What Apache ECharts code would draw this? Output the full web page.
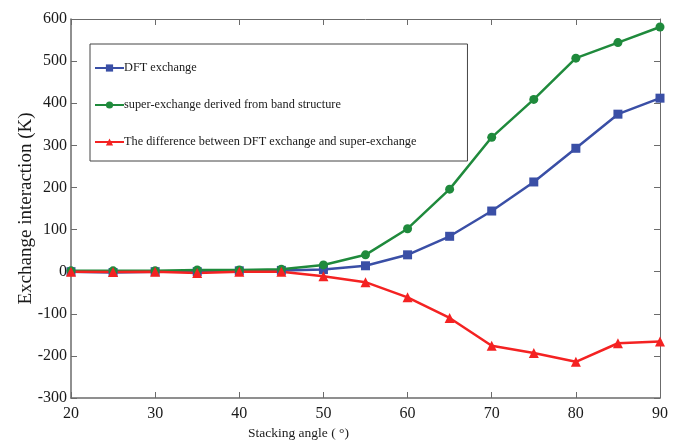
<!DOCTYPE html>
<html>
<head>
<meta charset="utf-8">
<script src="https://cdn.jsdelivr.net/npm/echarts@6/dist/echarts.min.js"></script>
<style>
  html, body { margin: 0; padding: 0; background: #fff; }
  #chart { width: 680px; height: 442px; }
</style>
</head>
<body>
<div id="chart"></div>
<script>
// stacking angles (deg)
let angles = [20, 25, 30, 35, 40, 45, 50, 55, 60, 65, 70, 75, 80, 85, 90];
let dftExchange = [0, -2, 0, 0, 2, 3, 5, 14, 40, 84, 144, 213, 293, 374, 412];
let superExchange = [2, 2, 2, 4, 4, 6, 16, 40, 102, 196, 319, 409, 507, 544, 581];
let difference = [0, -1, 0, -3, 0, 0, -11, -25, -61, -110, -176, -193, -214, -170, -166];
let seriesNames = [
  'DFT exchange',
  'super-exchange derived from band structure',
  'The difference between DFT exchange and super-exchange'
];

let font = 'Liberation Serif';
let frame = '#6b6b6b';

let pairs = function (ys) {
  let res = [];
  for (let i = 0; i < angles.length; i++) {
    res.push([angles[i], ys[i]]);
  }
  return res;
};

let mkSeries = function (name, ys, color, symbol, size) {
  return {
    name: name,
    type: 'line',
    xAxisIndex: 0,
    yAxisIndex: 0,
    data: pairs(ys),
    symbol: symbol,
    symbolSize: size,
    showAllSymbol: true,
    lineStyle: { color: color, width: 2.5 },
    itemStyle: { color: color },
    emphasis: { disabled: true },
    z: 3
  };
};

let chart = echarts.init(document.getElementById('chart'));
chart.setOption({
  backgroundColor: '#fff',
  animation: false,
  grid: { left: 71, right: 20, top: 19, bottom: 44, containLabel: false, outerBoundsMode: 'none' },
  legend: {
    orient: 'vertical',
    left: 90,
    top: 44,
    padding: [17, 51, 12, 4],
    itemGap: 23,
    itemWidth: 29,
    itemHeight: 9,
    borderColor: '#444',
    borderWidth: 1,
    textStyle: { fontFamily: font, fontSize: 12.3, lineHeight: 14, color: '#1a1a1a', padding: [0, 0, 0, -5] },
    data: seriesNames
  },
  xAxis: [
    {
      type: 'value', min: 20, max: 90, interval: 10,
      name: 'Stacking angle ( °)',
      nameLocation: 'middle', nameGap: 28,
      nameTextStyle: { fontFamily: font, fontSize: 13.5, color: '#1a1a1a', padding: [0, 134, 0, 0] },
      axisLine: { show: true, onZero: false, lineStyle: { color: frame, width: 1.5 } },
      axisTick: { inside: true, length: 6, lineStyle: { color: frame } },
      axisLabel: { fontFamily: font, fontSize: 16, color: '#1a1a1a', margin: 8 },
      splitLine: { show: false }
    },
    {
      type: 'value', min: 20, max: 90, interval: 10, position: 'top',
      axisLine: { show: true, onZero: false, lineStyle: { color: frame, width: 1 } },
      axisTick: { inside: true, length: 6, lineStyle: { color: frame } },
      axisLabel: { show: false },
      splitLine: { show: false }
    }
  ],
  yAxis: [
    {
      type: 'value', min: -300, max: 600, interval: 100,
      name: 'Exchange interaction (K)',
      nameLocation: 'middle', nameGap: 35, nameRotate: 90,
      nameMoveOverlap: false,
      nameTextStyle: { fontFamily: font, fontSize: 19, color: '#1a1a1a' },
      axisLine: { show: true, onZero: false, lineStyle: { color: frame, width: 1.5 } },
      axisTick: { inside: true, length: 6, lineStyle: { color: frame } },
      axisLabel: { fontFamily: font, fontSize: 16, color: '#1a1a1a', margin: 4 },
      splitLine: { show: false }
    },
    {
      type: 'value', min: -300, max: 600, interval: 100, position: 'right',
      axisLine: { show: true, onZero: false, lineStyle: { color: frame, width: 1 } },
      axisTick: { inside: true, length: 6, lineStyle: { color: frame } },
      axisLabel: { show: false },
      splitLine: { show: false }
    }
  ],
  series: [
    mkSeries(seriesNames[0], dftExchange, '#3a4fa6', 'rect', 9),
    mkSeries(seriesNames[1], superExchange, '#1f8a3c', 'circle', 9),
    mkSeries(seriesNames[2], difference, '#f42222', 'triangle', 10)
  ]
});
</script>
</body>
</html>
